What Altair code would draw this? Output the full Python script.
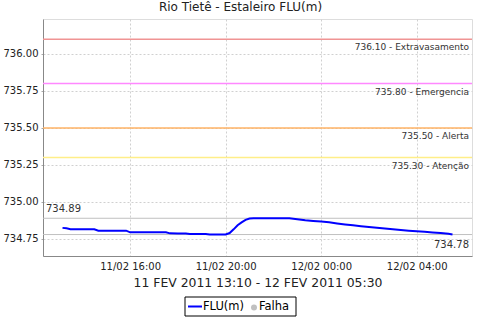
import altair as alt
import pandas as pd

# ---- data ----
horas = [
    "2011-02-11T13:10:00", "2011-02-11T13:20:00", "2011-02-11T13:30:00", "2011-02-11T13:50:00",
    "2011-02-11T14:10:00", "2011-02-11T14:30:00", "2011-02-11T14:40:00", "2011-02-11T15:00:00",
    "2011-02-11T15:30:00", "2011-02-11T15:50:00", "2011-02-11T16:00:00", "2011-02-11T16:30:00",
    "2011-02-11T17:00:00", "2011-02-11T17:30:00", "2011-02-11T17:40:00", "2011-02-11T18:00:00",
    "2011-02-11T18:20:00", "2011-02-11T18:30:00", "2011-02-11T19:00:00", "2011-02-11T19:10:00",
    "2011-02-11T19:20:00", "2011-02-11T19:40:00", "2011-02-11T20:00:00", "2011-02-11T20:10:00",
    "2011-02-11T20:20:00", "2011-02-11T20:30:00", "2011-02-11T20:40:00", "2011-02-11T20:50:00",
    "2011-02-11T21:00:00", "2011-02-11T21:10:00", "2011-02-11T21:40:00", "2011-02-11T22:10:00",
    "2011-02-11T22:40:00", "2011-02-11T23:00:00", "2011-02-11T23:20:00", "2011-02-11T23:40:00",
    "2011-02-12T00:00:00", "2011-02-12T00:20:00", "2011-02-12T00:40:00", "2011-02-12T01:00:00",
    "2011-02-12T01:20:00", "2011-02-12T01:40:00", "2011-02-12T02:00:00", "2011-02-12T02:20:00",
    "2011-02-12T02:40:00", "2011-02-12T03:00:00", "2011-02-12T03:20:00", "2011-02-12T03:40:00",
    "2011-02-12T04:00:00", "2011-02-12T04:20:00", "2011-02-12T04:40:00", "2011-02-12T05:00:00",
    "2011-02-12T05:20:00", "2011-02-12T05:30:00",
]
nivel = [
    734.825, 734.822, 734.816, 734.816,
    734.816, 734.816, 734.806, 734.806,
    734.806, 734.806, 734.795, 734.795,
    734.795, 734.795, 734.788, 734.787,
    734.787, 734.784, 734.784, 734.784,
    734.780, 734.780, 734.780, 734.790,
    734.815, 734.843, 734.862, 734.879,
    734.888, 734.890, 734.890, 734.890,
    734.890, 734.884, 734.877, 734.872,
    734.868, 734.863, 734.855, 734.848,
    734.842, 734.836, 734.831, 734.826,
    734.821, 734.816, 734.811, 734.806,
    734.802, 734.799, 734.794, 734.790,
    734.785, 734.780,
]
limites = [736.10, 735.80, 735.50, 735.30]
limites_nomes = ["Extravasamento", "Emergencia", "Alerta", "Atenção"]
y_ticks = [734.75, 735.00, 735.25, 735.50, 735.75, 736.00]
serie_nomes = ["FLU(m)", "Falha"]

# ---- styles ----
limite_cores = ["#F09494", "#FF88FF", "#FFB366", "#FFEE88"]
FONT = "DejaVu Sans"
W, H = 429, 237

df = pd.DataFrame({"hora": horas, "nivel": nivel})
df_lim = pd.DataFrame({
    "idx": list(range(len(limites))),
    "valor": limites,
    "rotulo": [f"{v:.2f} - {n}" for v, n in zip(limites, limites_nomes)],
})
one = pd.DataFrame({"k": [0]})

x_scale = alt.Scale(domain=[
    alt.DateTime(year=2011, month=2, date=11, hours=12, minutes=21),
    alt.DateTime(year=2011, month=2, date=12, hours=6, minutes=19),
])
y_scale = alt.Scale(domain=[734.635, 736.236], zero=False, nice=False)

x_enc = alt.X(
    "hora:T", scale=x_scale,
    axis=alt.Axis(
        title="11 FEV 2011 13:10 - 12 FEV 2011 05:30",
        format="%d/%m %H:%M",
        values=[
            alt.DateTime(year=2011, month=2, date=11, hours=16),
            alt.DateTime(year=2011, month=2, date=11, hours=20),
            alt.DateTime(year=2011, month=2, date=12, hours=0),
            alt.DateTime(year=2011, month=2, date=12, hours=4),
        ],
        grid=True, gridDash=[2, 2], gridColor="#D0D0D0",
        tickSize=0, labelPadding=5, labelFontSize=10, labelColor="#222",
        labelFont=FONT, titleFont=FONT, titleFontSize=12.4, titleFontWeight="normal",
        titleColor="#222", titlePadding=5, domainColor="#888",
    ),
)
y_enc = alt.Y(
    "nivel:Q", scale=y_scale,
    axis=alt.Axis(
        title=None, values=y_ticks, format=".2f",
        grid=True, gridDash=[2, 2], gridColor="#D0D0D0",
        tickSize=2, tickColor="#AAA", labelPadding=3, labelFontSize=10,
        labelColor="#222", labelFont=FONT, domainColor="#888",
    ),
)

base = alt.Chart(df)

line = base.mark_line(color="#0000FF", strokeWidth=2).encode(x=x_enc, y=y_enc)

max_rule = base.mark_rule(color="#C0C0C0", strokeWidth=1).encode(y=alt.Y("max(nivel):Q", scale=y_scale))
min_rule = base.mark_rule(color="#C0C0C0", strokeWidth=1).encode(y=alt.Y("min(nivel):Q", scale=y_scale))
max_txt = base.mark_text(align="left", baseline="middle", dy=-9, fontSize=10, font=FONT, color="#333").encode(
    x=alt.value(3), y=alt.Y("max(nivel):Q", scale=y_scale), text=alt.Text("max(nivel):Q", format=".2f"))
min_txt = base.mark_text(align="right", baseline="middle", dy=10, fontSize=10, font=FONT, color="#333").encode(
    x=alt.value(W - 3), y=alt.Y("min(nivel):Q", scale=y_scale), text=alt.Text("min(nivel):Q", format=".2f"))

lim_rules = [
    alt.Chart(df_lim).transform_filter(alt.datum.idx == i)
    .mark_rule(strokeWidth=1.5, color=c)
    .encode(y=alt.Y("valor:Q", scale=y_scale))
    for i, c in enumerate(limite_cores)
]
lim_txt = alt.Chart(df_lim).mark_text(align="right", baseline="middle", dy=8, fontSize=9, font=FONT, color="#333").encode(
    x=alt.value(W - 3), y=alt.Y("valor:Q", scale=y_scale), text="rotulo:N")

# manual legend
leg_box = alt.Chart(one).mark_rect(fill="white", stroke="black", strokeWidth=1).encode(
    x=alt.value(142), x2=alt.value(253), y=alt.value(278), y2=alt.value(297))
leg_line = alt.Chart(one).mark_rule(color="#0000FF", strokeWidth=2).encode(
    x=alt.value(145), x2=alt.value(159), y=alt.value(287.5))
leg_t1 = alt.Chart(one).mark_text(align="left", baseline="middle", fontSize=11.5, font=FONT, color="#000").encode(
    x=alt.value(160), y=alt.value(288), text=alt.value(serie_nomes[0]))
leg_pt = alt.Chart(one).mark_point(filled=True, shape="circle", size=36, color="#C0C0C0", opacity=1).encode(
    x=alt.value(211), y=alt.value(288.5))
leg_t2 = alt.Chart(one).mark_text(align="left", baseline="middle", fontSize=11.5, font=FONT, color="#000").encode(
    x=alt.value(216), y=alt.value(288), text=alt.value(serie_nomes[1]))

chart = alt.layer(
    *lim_rules, max_rule, min_rule, line, lim_txt, max_txt, min_txt,
    leg_box, leg_line, leg_t1, leg_pt, leg_t2,
).properties(
    width=W, height=H,
    title=alt.Title("Rio Tietê - Estaleiro FLU(m)", font=FONT, fontSize=12, fontWeight="normal",
                    color="#222", offset=5, dx=-17),
    autosize=alt.AutoSizeParams(type="none"),
    padding={"left": 43, "top": 19, "right": 8, "bottom": 64},
).configure_view(stroke="#B0B0B0", strokeWidth=1).configure(background="white")

chart.save("out.html", embed_options={"renderer": "svg", "actions": False})
